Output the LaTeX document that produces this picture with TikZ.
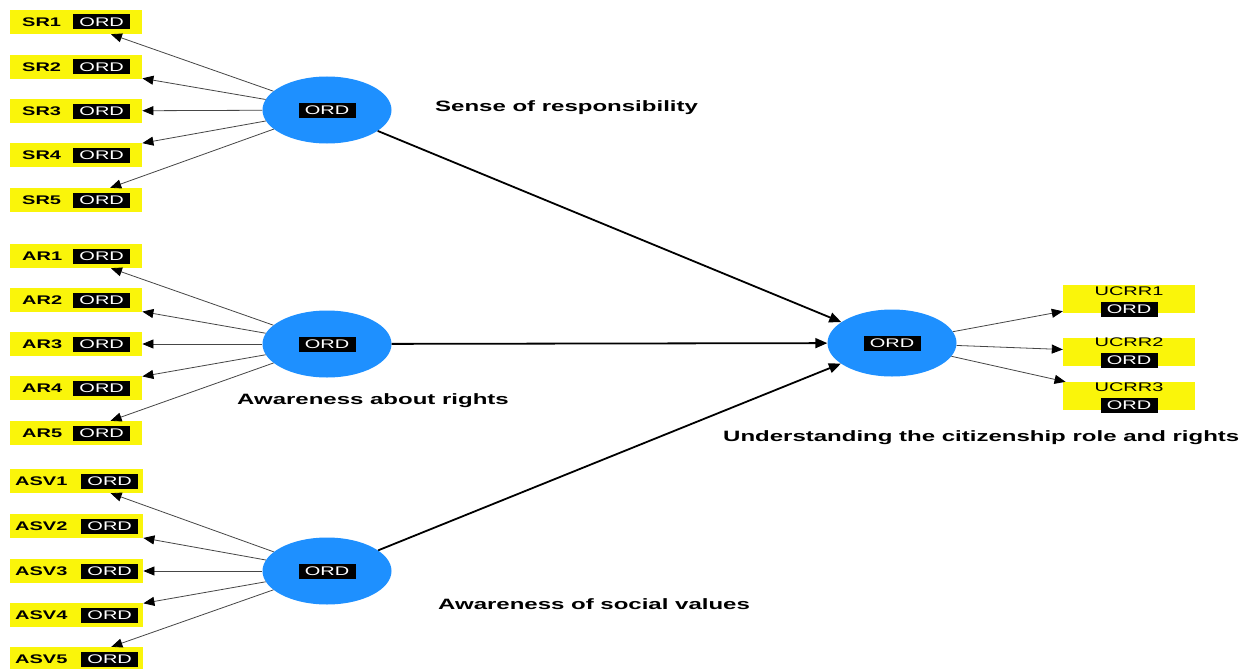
\documentclass[tikz,border=0pt]{standalone}
\usepackage{fontspec}
\setmainfont{Liberation Sans}[FakeStretch=1.6]
\usetikzlibrary{shapes.geometric,arrows.meta}
\definecolor{indyellow}{RGB}{250,245,10}
\definecolor{lvblue}{RGB}{30,144,255}
\definecolor{indline}{RGB}{70,70,70}
\newcommand{\indfont}{\fontsize{12.5}{14}\selectfont}
\newcommand{\lblfont}{\fontsize{15}{17}\selectfont\bfseries}
\tikzset{
  indbox/.style={fill=indyellow, minimum width=132pt, minimum height=24pt, inner sep=0pt,
    text width=132pt, align=left, anchor=west, font=\indfont\bfseries},
  ucbox/.style={fill=indyellow, minimum width=132pt, minimum height=28pt, inner sep=0pt},
  ordbox/.style={fill=black, text=white, minimum width=57pt, minimum height=15pt, inner sep=0pt, font=\indfont},
  lv/.style={ellipse, fill=lvblue, minimum width=129pt, minimum height=67pt, inner sep=0pt},
  lbl/.style={anchor=west, inner sep=0pt, font=\lblfont},
  ucname/.style={inner sep=0pt, font=\indfont},
  meas/.style={draw=indline, line width=0.8pt, -{Triangle[length=11pt,width=9pt,fill=black,color=black]}},
  struct/.style={draw=black, line width=1.8pt, -{Triangle[length=12pt,width=10pt]}}
}
\begin{document}
\begin{tikzpicture}[x=1pt,y=-1pt]
\useasboundingbox (0,0) rectangle (1245,669);
\fill[white] (0,0) rectangle (1245,669);

% latent variables
\node[lv] (sr) at (327,110) {};
\node[lv] (ar) at (327,344) {};
\node[lv] (asv) at (327,571) {};
\node[lv] (uc) at (892,343) {};
\node[ordbox] (sro) at (sr) {ORD};
\node[ordbox] (aro) at (ar) {ORD};
\node[ordbox] (asvo) at (asv) {ORD};
\node[ordbox] (uco) at (uc) {ORD};

% SR indicators
\foreach \i/\y in {1/22,2/67,3/111,4/155,5/200}{
  \node[indbox] (sr\i) at (10,\y) {\hspace*{12pt}SR\i};
  \node[ordbox, anchor=east] (sr\i o) at ([xshift=-12pt]sr\i.east) {ORD};
}
% AR indicators
\foreach \i/\y in {1/256,2/300,3/344,4/388,5/433}{
  \node[indbox] (ar\i) at (10,\y) {\hspace*{12pt}AR\i};
  \node[ordbox, anchor=east] (ar\i o) at ([xshift=-12pt]ar\i.east) {ORD};
}
% ASV indicators
\foreach \i/\y in {1/481,2/526,3/571,4/615,5/659}{
  \node[indbox, minimum width=133pt, text width=133pt] (asv\i) at (10,\y) {\hspace*{5pt}ASV\i};
  \node[ordbox, anchor=east] (asv\i o) at ([xshift=-5pt]asv\i.east) {ORD};
}
% UCRR indicators
\foreach \i/\y/\t/\o in {1/299/291/309,2/352/342/360,3/396/387/405}{
  \node[ucbox] (uc\i) at (1129,\y) {};
  \node[ucname] (uc\i t) at (1129,\t) {UCRR\i};
  \node[ordbox] (uc\i o) at (1129,\o) {ORD};
}

% measurement arrows
\foreach \i in {1,...,5}{
  \draw[meas] (sr) -- (sr\i);
  \draw[meas] (ar) -- (ar\i);
  \draw[meas] (asv) -- (asv\i);
}
\foreach \i in {1,2,3}{
  \draw[meas] (uc) -- (uc\i);
}

% structural arrows
\draw[struct] (sr) -- (uc);
\draw[struct] (ar) -- (uc);
\draw[struct] (asv) -- (uc);

% labels
\node[lbl] (lsr) at (435,108) {Sense of responsibility};
\node[lbl] (lar) at (237,401) {Awareness about rights};
\node[lbl] (lasv) at (438,604) {Awareness of social values};
\node[lbl] (luc) at (723,438) {Understanding the citizenship role and rights};
\end{tikzpicture}
\end{document}
